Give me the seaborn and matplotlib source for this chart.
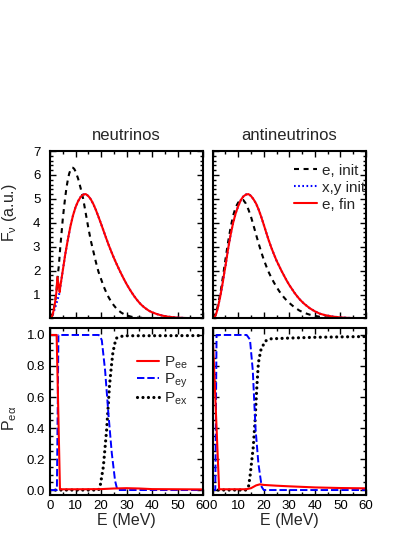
import matplotlib
matplotlib.use("Agg")
import matplotlib.pyplot as plt
from matplotlib.ticker import MultipleLocator
from matplotlib.lines import Line2D
import seaborn as sns

# ---- spectra, neutrinos (E in MeV, F in a.u.) ----
nu_init_E = [0.4, 1, 1.5, 2, 2.5, 3, 3.5, 4, 4.5, 5, 5.5, 6, 6.5, 7, 7.5, 8, 8.5, 9, 9.5, 10,
             10.5, 11, 11.5, 12, 13, 14, 15, 16, 17, 18, 19, 20, 21, 22, 23, 24, 25, 26, 27,
             28, 29, 30, 32, 34, 37, 40, 45, 60]
nu_init_F = [0, 0.15, 0.38, 0.68, 1.1, 1.75, 2.25, 2.95, 3.55, 4.15, 4.65, 5.1, 5.5, 5.8, 6.05,
             6.2, 6.3, 6.3, 6.25, 6.15, 6.0, 5.85, 5.65, 5.45, 5.0, 4.4, 3.8, 3.25, 2.8, 2.35,
             1.95, 1.65, 1.35, 1.1, 0.88, 0.7, 0.55, 0.42, 0.32, 0.24, 0.18, 0.13, 0.07, 0.04,
             0.02, 0.01, 0, 0]

nu_xy_E = [0.4, 1, 2, 3, 3.8, 4, 5, 6, 7, 8, 9, 10, 11, 12, 13, 14, 15, 16, 17, 18, 19, 20,
           21, 22, 23, 24, 25, 26, 27, 28, 29, 30, 31, 32, 33, 34, 35, 36, 37, 38, 39, 40, 42,
           44, 46, 48, 50, 53, 56, 60]
nu_xy_F = [0, 0.12, 0.45, 0.8, 1.1, 1.3, 2.0, 2.7, 3.3, 3.85, 4.3, 4.65, 4.9, 5.08, 5.18, 5.2,
           5.12, 4.98, 4.78, 4.53, 4.25, 3.96, 3.66, 3.36, 3.07, 2.8, 2.54, 2.3, 2.07, 1.85,
           1.64, 1.44, 1.26, 1.09, 0.93, 0.79, 0.66, 0.55, 0.46, 0.38, 0.31, 0.26, 0.18, 0.12,
           0.08, 0.055, 0.036, 0.02, 0.011, 0.005]

nu_fin_E = [0.4, 1, 1.5, 2, 2.5, 2.9, 3.8, 4, 5, 6, 7, 8, 9, 10, 11, 12, 13, 14, 15, 16, 17,
            18, 19, 20, 21, 22, 23, 24, 25, 26, 27, 28, 29, 30, 31, 32, 33, 34, 35, 36, 37, 38,
            39, 40, 42, 44, 46, 48, 50, 53, 56, 60]
nu_fin_F = [0, 0.15, 0.38, 0.68, 1.1, 1.73, 1.1, 1.3, 2.0, 2.7, 3.3, 3.85, 4.3, 4.65, 4.9, 5.08,
            5.18, 5.2, 5.12, 4.98, 4.78, 4.53, 4.25, 3.96, 3.66, 3.36, 3.07, 2.8, 2.54, 2.3,
            2.07, 1.85, 1.64, 1.44, 1.26, 1.09, 0.93, 0.79, 0.66, 0.55, 0.46, 0.38, 0.31, 0.26,
            0.18, 0.12, 0.08, 0.055, 0.036, 0.02, 0.011, 0.005]

# ---- spectra, antineutrinos ----
anu_init_E = [0.4, 1, 1.5, 2, 2.5, 3, 3.5, 4, 4.5, 5, 6, 7, 8, 9, 10, 11, 12, 13, 14, 15, 16,
              17, 18, 19, 20, 21, 22, 23, 24, 25, 26, 27, 28, 29, 30, 32, 34, 36, 38, 40, 42,
              45, 50, 55, 60]
anu_init_F = [0, 0.12, 0.3, 0.55, 0.8, 1.05, 1.4, 1.75, 2.12, 2.48, 3.18, 3.8, 4.3, 4.65, 4.85,
              4.95, 4.95, 4.8, 4.55, 4.25, 3.88, 3.5, 3.13, 2.78, 2.46, 2.18, 1.92, 1.7, 1.5,
              1.32, 1.15, 1.0, 0.87, 0.75, 0.65, 0.47, 0.33, 0.23, 0.16, 0.11, 0.07, 0.04,
              0.015, 0.005, 0]

anu_fin_E = [0.4, 1, 1.5, 2, 2.5, 3, 3.5, 4, 4.5, 5, 5.5, 6, 7, 8, 9, 10, 11, 12, 13, 14, 15,
             16, 17, 18, 19, 20, 21, 22, 23, 24, 25, 26, 27, 28, 29, 30, 31, 32, 33, 34, 35, 36,
             38, 40, 42, 44, 47, 50, 53, 56, 60]
anu_fin_F = [0, 0.1, 0.25, 0.45, 0.7, 0.95, 1.25, 1.55, 1.9, 2.2, 2.55, 2.9, 3.5, 4.0, 4.4,
             4.7, 4.95, 5.1, 5.18, 5.2, 5.12, 4.98, 4.8, 4.55, 4.25, 3.92, 3.58, 3.25, 2.95,
             2.68, 2.42, 2.2, 1.98, 1.78, 1.58, 1.4, 1.24, 1.08, 0.94, 0.81, 0.7, 0.6, 0.43,
             0.3, 0.2, 0.14, 0.08, 0.045, 0.025, 0.015, 0.005]
# x,y init lies under e, fin for antineutrinos
anu_xy_E = anu_fin_E
anu_xy_F = anu_fin_F

# ---- probabilities, neutrinos ----
nu_pee_E = [0, 2.6, 3.9, 10, 20, 25, 30, 35, 40, 60]
nu_pee_P = [1, 1, 0.005, 0.005, 0.006, 0.01, 0.012, 0.01, 0.006, 0.004]
nu_pey_E = [0, 2.7, 3.3, 19, 19.5, 20.3, 21.6, 22.9, 24.2, 25.5, 26.4, 30, 60]
nu_pey_P = [0, 0, 1, 1, 0.995, 0.966, 0.77, 0.49, 0.24, 0.06, 0.0, 0, 0]
nu_pex_E = [0, 19, 19.6, 20.9, 21.5, 22.2, 22.8, 23.3, 24, 24.6, 25.3, 26.1, 28.8, 35, 60]
nu_pex_P = [0, 0, 0.02, 0.15, 0.26, 0.39, 0.54, 0.67, 0.79, 0.88, 0.94, 0.98, 0.995, 0.995, 0.996]

# ---- probabilities, antineutrinos ----
anu_pee_E = [0, 1, 2, 2.5, 5, 13, 15, 17, 18.5, 20, 25, 30, 40, 50, 60]
anu_pee_P = [1, 0.6, 0.2, 0.005, 0.005, 0.005, 0.012, 0.03, 0.037, 0.033, 0.028, 0.024,
             0.017, 0.013, 0.011]
anu_pey_E = [0, 1.0, 1.5, 13.3, 14.6, 15.7, 16.3, 16.8, 17.9, 19.2, 20, 60]
anu_pey_P = [0, 0, 1, 1, 0.97, 0.77, 0.56, 0.39, 0.17, 0.02, 0, 0]
anu_pex_E = [0, 13, 14, 14.6, 15.9, 16.6, 17.3, 17.9, 18.8, 20.5, 22.5, 30, 40, 60]
anu_pex_P = [0, 0, 0.02, 0.086, 0.28, 0.45, 0.67, 0.82, 0.90, 0.96, 0.975, 0.98, 0.985, 0.99]

sns.set_theme(style="ticks")
plt.rcParams['font.family'] = ['Liberation Sans', 'DejaVu Sans']
plt.rcParams['mathtext.fontset'] = 'custom'
plt.rcParams['mathtext.rm'] = 'Liberation Sans'
plt.rcParams['mathtext.it'] = 'Liberation Sans'
plt.rcParams['mathtext.default'] = 'regular'

RED, BLUE, BLACK = '#ff0000', '#0000ff', 'black'
dash_k = (0, (2.4, 2.2))
dot_b = (0, (0.8, 1.2))
dash_b = (0, (3.8, 1.5))
dot_k = (0, (0.01, 1.7))

fig, axes = plt.subplots(2, 2, figsize=(4.15, 5.37), dpi=100)
fig.subplots_adjust(left=0.1205, right=0.8815, top=0.7188, bottom=0.0782,
                    wspace=0.063, hspace=0.054)
(ax_nu, ax_anu), (ax_pnu, ax_panu) = axes


def line(ax, x, y, **kw):
    sns.lineplot(x=x, y=y, ax=ax, estimator=None, sort=False, **kw)


# spectra
line(ax_nu, nu_init_E, nu_init_F, color=BLACK, lw=1.5, linestyle=dash_k)
line(ax_nu, nu_xy_E, nu_xy_F, color=BLUE, lw=1.5, linestyle=dot_b)
line(ax_nu, nu_fin_E, nu_fin_F, color=RED, lw=1.5)

line(ax_anu, anu_init_E, anu_init_F, color=BLACK, lw=1.5, linestyle=dash_k)
line(ax_anu, anu_xy_E, anu_xy_F, color=BLUE, lw=1.5, linestyle=dot_b)
line(ax_anu, anu_fin_E, anu_fin_F, color=RED, lw=1.5)

# probabilities
for ax, pe, pm, px in [
    (ax_pnu, (nu_pee_E, nu_pee_P), (nu_pey_E, nu_pey_P), (nu_pex_E, nu_pex_P)),
    (ax_panu, (anu_pee_E, anu_pee_P), (anu_pey_E, anu_pey_P), (anu_pex_E, anu_pex_P)),
]:
    line(ax, px[0], px[1], color=BLACK, lw=2.3, linestyle=dot_k, dash_capstyle='round')
    line(ax, pm[0], pm[1], color=BLUE, lw=1.4, linestyle=dash_b)
    line(ax, pe[0], pe[1], color=RED, lw=1.5)

for ax in axes.flat:
    ax.set_xlim(0, 60)
    ax.xaxis.set_major_locator(MultipleLocator(10))
    ax.xaxis.set_minor_locator(MultipleLocator(5))
    ax.tick_params(which='both', direction='in', top=True, right=True, labelsize=9.5,
                   width=1.0, colors='black')
    ax.tick_params(which='major', length=4.5)
    ax.tick_params(which='minor', length=2.5)
    for s in ax.spines.values():
        s.set_linewidth(1.5)
        s.set_color('black')
    ax.set_xlabel('')
    ax.set_ylabel('')

for ax in (ax_nu, ax_anu):
    ax.set_ylim(0, 7)
    ax.set_yticks([1, 2, 3, 4, 5, 6, 7])
    ax.yaxis.set_minor_locator(MultipleLocator(0.2))
    ax.tick_params(axis='x', labelbottom=False)
for ax in (ax_pnu, ax_panu):
    ax.set_ylim(-0.032, 1.048)
    ax.set_yticks([0, 0.2, 0.4, 0.6, 0.8, 1.0])
    ax.set_yticklabels(['0.0', '0.2', '0.4', '0.6', '0.8', '1.0'])
    ax.yaxis.set_minor_locator(MultipleLocator(0.05))
    ax.set_xlabel('E (MeV)', fontsize=11.5, labelpad=1)
for ax in (ax_anu, ax_panu):
    ax.tick_params(axis='y', labelleft=False)
ax_nu.tick_params(axis='y', pad=7)

ax_nu.set_title('neutrinos', fontsize=12, pad=8)
ax_anu.set_title('antineutrinos', fontsize=12, pad=8)
ax_nu.set_ylabel(r'F$_\nu$ (a.u.)', fontsize=11.5)
ax_nu.yaxis.set_label_coords(-0.2, 0.63)
ax_pnu.set_ylabel(r'P$_{e\alpha}$', fontsize=11.5)
ax_pnu.yaxis.set_label_coords(-0.2, 0.46)

h_top = [Line2D([], [], color=BLACK, lw=1.5, linestyle=dash_k),
         Line2D([], [], color=BLUE, lw=1.5, linestyle=dot_b),
         Line2D([], [], color=RED, lw=1.5)]
ax_anu.legend(h_top, ['e, init', 'x,y init', 'e, fin'], loc='upper right',
              bbox_to_anchor=(0.995, 0.925), frameon=False, fontsize=11, handlelength=1.5,
              handletextpad=0.3, labelspacing=0.2, borderpad=0, borderaxespad=0)

h_bot = [Line2D([], [], color=RED, lw=1.5),
         Line2D([], [], color=BLUE, lw=1.4, linestyle=dash_b),
         Line2D([], [], color=BLACK, lw=2.3, linestyle=dot_k, dash_capstyle='round')]
ax_pnu.legend(h_bot, ['P$_{ee}$', 'P$_{ey}$', 'P$_{ex}$'], loc='upper right',
              bbox_to_anchor=(0.9, 0.84), frameon=False, fontsize=11, handlelength=1.5,
              handletextpad=0.3, labelspacing=0.05, borderpad=0, borderaxespad=0)

fig.savefig('out.png', dpi=100, facecolor='white')
